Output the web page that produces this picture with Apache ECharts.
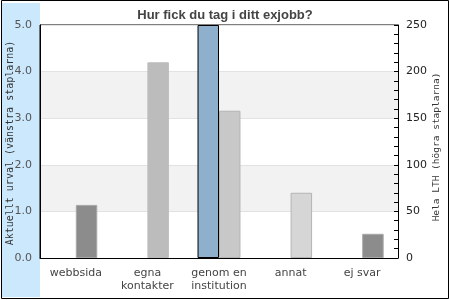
<!DOCTYPE html>
<html>
<head>
<meta charset="utf-8">
<script src="https://cdn.jsdelivr.net/npm/echarts@6/dist/echarts.min.js"></script>
<style>html,body{margin:0;padding:0;background:#fff}#c{width:450px;height:300px}</style>
</head>
<body>
<div id="c"></div>
<script>
var categories = ['webbsida', 'egna\nkontakter', 'genom en\ninstitution', 'annat', 'ej svar'];
var currentValues = [null, null, 5.0, null, null];
var lthValues = [57, 210, 158, 70, 26];
var leftTicks = [0, 1, 2, 3, 4, 5];
var rightTicks = [0, 50, 100, 150, 200, 250];
var titleText = 'Hur fick du tag i ditt exjobb?';
var leftName = 'Aktuellt urval (vänstra staplarna)';
var rightName = 'Hela LTH (högra staplarna)';

var lthFill = ['#8c8c8c', '#bcbcbc', '#c8c8c8', '#d6d6d6', '#8c8c8c'];
var lthBorder = ['#a8a8a8', '#bcbcbc', '#b4b4b4', '#b4b4b4', '#a8a8a8'];

var chart = echarts.init(document.getElementById('c'), null, {renderer: 'canvas'});
var option = {
  animation: false,
  backgroundColor: '#fff',
  title: {
    text: titleText, left: 'center', top: 4,
    textStyle: {fontFamily: 'Liberation Sans', fontWeight: 'bold', fontSize: 13, color: '#444'}
  },
  graphic: [
    {type: 'rect', z: -10, shape: {x: 2, y: 3, width: 38, height: 294}, style: {fill: '#cce8fc'}},
    {type: 'rect', z: 100, shape: {x: 1.5, y: 0.5, width: 447, height: 298}, style: {fill: 'none', stroke: '#000', lineWidth: 1}},
    {type: 'text', z: 100, x: 10, y: 143, rotation: Math.PI / 2,
      style: {text: leftName, fontFamily: 'DejaVu Sans Mono', fontSize: 10, fill: '#333', align: 'center', verticalAlign: 'middle'}},
    {type: 'text', z: 100, x: 437, y: 147, rotation: Math.PI / 2,
      style: {text: rightName, fontFamily: 'DejaVu Sans Mono', fontSize: 9.5, fill: '#333', align: 'center', verticalAlign: 'middle'}}
  ],
  grid: {left: 40, right: 52, top: 25, bottom: 42, show: true, borderColor: '#000', borderWidth: 1, backgroundColor: '#fff'},
  xAxis: {
    type: 'category', data: categories,
    axisLine: {lineStyle: {color: '#000'}}, axisTick: {show: false},
    axisLabel: {interval: 0, color: '#444', fontFamily: 'DejaVu Sans', fontSize: 11, margin: 9, lineHeight: 13}
  },
  yAxis: [
    {
      type: 'value', min: leftTicks[0], max: leftTicks[leftTicks.length - 1], interval: 1,
      axisLine: {show: true, lineStyle: {color: '#000'}}, axisTick: {show: false},
      axisLabel: {color: '#555', fontFamily: 'DejaVu Sans', fontSize: 11, margin: 8, formatter: function (v) { return v.toFixed(1); }},
      splitLine: {show: true, lineStyle: {color: '#e2e2e2'}},
      splitArea: {show: true, areaStyle: {color: ['#ffffff', '#f2f2f2']}}
    },
    {
      type: 'value', position: 'right', min: rightTicks[0], max: rightTicks[rightTicks.length - 1], interval: 50,
      axisLine: {show: true, lineStyle: {color: '#000'}},
      axisTick: {show: true, inside: true, length: 4, lineStyle: {color: '#000'}},
      minorTick: {show: true, splitNumber: 5, length: 4, lineStyle: {color: '#000'}},
      axisLabel: {color: '#222', fontFamily: 'DejaVu Sans', fontSize: 11, margin: 8},
      splitLine: {show: false}
    }
  ],
  series: [
    {
      type: 'bar', yAxisIndex: 0, data: currentValues, barGap: 0, barCategoryGap: '40%',
      itemStyle: {color: '#8fb0cc', borderColor: '#000', borderWidth: 1}
    },
    {
      type: 'bar', yAxisIndex: 1, barGap: 0, barCategoryGap: '40%',
      data: lthValues.map(function (v, i) {
        return {value: v, itemStyle: {color: lthFill[i], borderColor: lthBorder[i], borderWidth: 1}};
      })
    }
  ]
};
chart.setOption(option);
</script>
</body>
</html>
